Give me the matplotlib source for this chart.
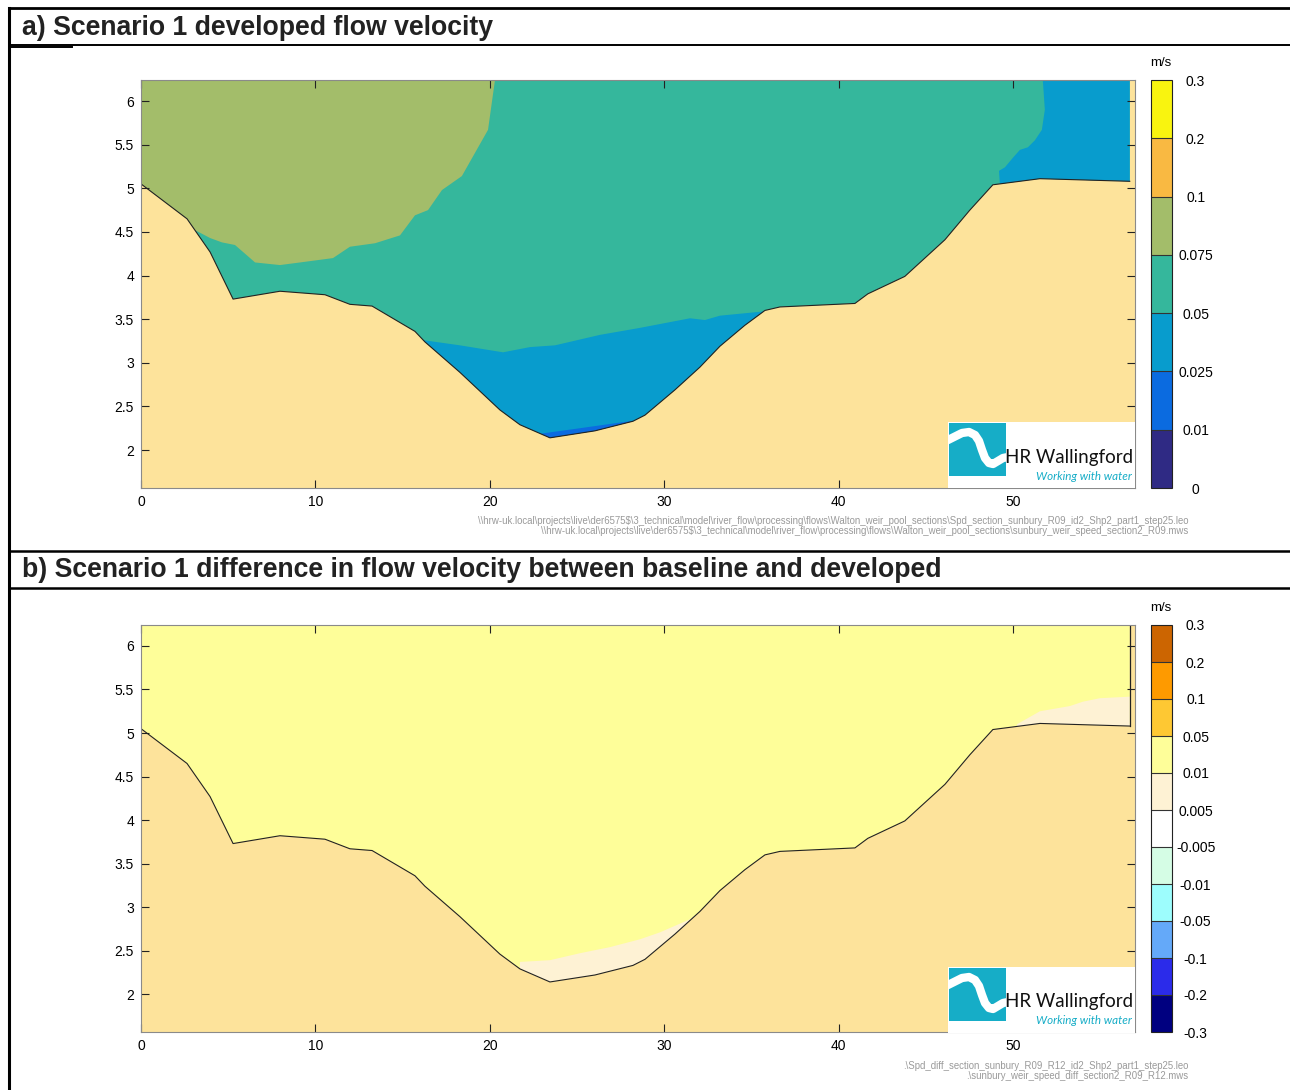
import matplotlib.pyplot as plt
from matplotlib.cm import ScalarMappable
from matplotlib.colors import BoundaryNorm, ListedColormap
from matplotlib.lines import Line2D
from matplotlib.patches import Polygon, Rectangle

W, H = 1290, 1090
plt.rcParams['font.family'] = ['Liberation Sans', 'DejaVu Sans']

# river bed along the section (chainage m, level m)
BED_X = [0, 2.64, 3.96, 5.28, 7.97, 10.55, 11.98, 13.25, 15.71, 16.28, 18.29, 20.58,
         21.73, 23.45, 26.03, 28.21, 28.9, 30.62, 32.05, 33.2, 34.63, 35.78, 36.64,
         40.94, 41.68, 43.8, 46.1, 47.53, 48.85, 51.55, 56.7]
BED_Z = [5.05, 4.65, 4.27, 3.73, 3.82, 3.78, 3.67, 3.65, 3.36, 3.24, 2.89, 2.46,
         2.29, 2.14, 2.22, 2.33, 2.40, 2.69, 2.95, 3.19, 3.43, 3.60, 3.64,
         3.68, 3.79, 3.99, 4.41, 4.75, 5.04, 5.11, 5.08]

# developed speed: contour bands (boundary x, boundary z, band value, side of boundary)
DEV_BASE = 0.06
DEV_OLIVE_X = [20.41, 19.9, 18.4, 17.26, 16.46, 15.71, 14.85, 13.42, 11.98, 11.01, 9.12,
               7.97, 6.54, 6.14, 5.39, 4.64, 3.96, 3.10]
DEV_OLIVE_Z = [6.4, 5.67, 5.14, 4.98, 4.75, 4.69, 4.46, 4.37, 4.33, 4.20, 4.15,
               4.12, 4.15, 4.22, 4.35, 4.38, 4.43, 4.52]
DEV_MID_X = [16.17, 18.29, 20.76, 22.31, 23.74, 26.32, 28.61, 31.48, 32.34, 33.2, 35.78]
DEV_MID_Z = [3.26, 3.20, 3.12, 3.18, 3.20, 3.32, 3.40, 3.51, 3.49, 3.54, 3.59]
DEV_LOW_X = [23.0, 25.17, 27.29, 28.21]
DEV_LOW_Z = [2.19, 2.25, 2.31, 2.335]
DEV_RIGHT_X = [51.66, 51.83, 51.66, 51.26, 50.86, 50.40, 50.0, 49.54, 49.2, 49.25]
DEV_RIGHT_Z = [6.4, 5.90, 5.67, 5.55, 5.47, 5.44, 5.35, 5.24, 5.20, 5.05]
DEV_BANDS = [
    (DEV_OLIVE_X, DEV_OLIVE_Z, 0.085, 'left'),
    (DEV_MID_X, DEV_MID_Z, 0.04, 'below'),
    (DEV_LOW_X, DEV_LOW_Z, 0.02, 'below'),
    (DEV_RIGHT_X, DEV_RIGHT_Z, 0.04, 'right'),
]

# difference in speed
DIFF_BASE = 0.03
DIFF_LOW_X = [21.73, 23.45, 25.17, 26.89, 28.61, 29.76, 31.48, 31.94]
DIFF_LOW_Z = [2.37, 2.39, 2.47, 2.54, 2.63, 2.71, 2.86, 2.93]
DIFF_RIGHT_X = [56.9, 54.99, 54.01, 53.27, 51.55, 50.23]
DIFF_RIGHT_Z = [5.42, 5.40, 5.36, 5.31, 5.25, 5.10]
DIFF_BANDS = [
    (DIFF_LOW_X, DIFF_LOW_Z, 0.007, 'below'),
    (DIFF_RIGHT_X, DIFF_RIGHT_Z, 0.007, 'below'),
]

SPEED_BOUNDS = [0, 0.01, 0.025, 0.05, 0.075, 0.1, 0.2, 0.3]
SPEED_LABELS = ['0', '0.01', '0.025', '0.05', '0.075', '0.1', '0.2', '0.3']
SPEED_COLORS = ['#2f2a84', '#0b6be0', '#089ccd', '#35b79c', '#a3bd6a', '#f9b942', '#f9f40f']

DIFF_BOUNDS = [-0.3, -0.2, -0.1, -0.05, -0.01, -0.005, 0.005, 0.01, 0.05, 0.1, 0.2, 0.3]
DIFF_LABELS = ['-0.3', '-0.2', '-0.1', '-0.05', '-0.01', '-0.005', '0.005', '0.01',
               '0.05', '0.1', '0.2', '0.3']
DIFF_COLORS = ['#000080', '#2b2bea', '#64a9f9', '#9dfdfd', '#d5fde5', '#ffffff',
               '#fef2d4', '#fefe99', '#fec833', '#fe9a00', '#cc6501']

X_TICKS = [0, 10, 20, 30, 40, 50]
Y_TICKS = [2, 2.5, 3, 3.5, 4, 4.5, 5, 5.5, 6]
Y_TICK_LABELS = ['2', '2.5', '3', '3.5', '4', '4.5', '5', '5.5', '6']

TITLE_A = 'a) Scenario 1 developed flow velocity'
TITLE_B = 'b) Scenario 1 difference in flow velocity between baseline and developed'
SRC_A = ['\\\\hrw-uk.local\\projects\\live\\der6575$\\3_technical\\model\\river_flow\\processing'
         '\\flows\\Walton_weir_pool_sections\\Spd_section_sunbury_R09_id2_Shp2_part1_step25.leo',
         '\\\\hrw-uk.local\\projects\\live\\der6575$\\3_technical\\model\\river_flow\\processing'
         '\\flows\\Walton_weir_pool_sections\\sunbury_weir_speed_section2_R09.mws']
SRC_B = ['.\\Spd_diff_section_sunbury_R09_R12_id2_Shp2_part1_step25.leo',
         '.\\sunbury_weir_speed_diff_section2_R09_R12.mws']

SAND = '#fde39b'
LOGO_CYAN = '#16adc7'
XLIM = (0, 57.0)
YLIM = (1.565, 6.241)


def rect(px0, py0, px1, py1):
    return [px0 / W, 1 - py1 / H, (px1 - px0) / W, (py1 - py0) / H]


def band_polygon(xs, zs, side):
    pts = list(zip(xs, zs))
    if side == 'below':
        pts += [(xs[-1], 0), (xs[0], 0)]
    elif side == 'left':
        pts += [(xs[-1], 0), (-5, 0), (-5, 10), (xs[0], 10)]
    else:
        pts += [(xs[-1], 0), (70, 0), (70, 10), (xs[0], 10)]
    return pts


def draw_logo(fig, top):
    lax = fig.add_axes(rect(948, top, 1135, top + 66))
    lax.set_xlim(0, 187)
    lax.set_ylim(66, 0)
    lax.set_facecolor('white')
    for s in lax.spines.values():
        s.set_visible(False)
    lax.set_xticks([])
    lax.set_yticks([])
    square = Rectangle((1, 1), 57, 53, color=LOGO_CYAN, lw=0)
    lax.add_patch(square)
    wave, = lax.plot([-2, 6, 14, 21, 27, 31, 34, 37, 41, 45, 50, 55, 60],
                     [19, 15, 11, 10, 13, 19, 28, 36, 41, 42, 39, 36, 35],
                     color='white', lw=6, solid_capstyle='butt', solid_joinstyle='round')
    wave.set_clip_path(square)
    lax.text(57, 35, 'HR Wallingford', fontsize=13.5, family=['Lato', 'DejaVu Sans'],
             color='#111111', va='center', ha='left')
    lax.text(184, 54, 'Working with water', fontsize=8.4, family=['Lato', 'DejaVu Sans'],
             style='italic', color=LOGO_CYAN, va='center', ha='right')


def draw_panel(fig, top, bottom, base_value, bands, cmap, norm, edge_line):
    ax = fig.add_axes(rect(141, top, 1135, bottom))
    ax.set_facecolor(SAND)
    water = Polygon(list(zip(BED_X, BED_Z)) + [(BED_X[-1], 10), (BED_X[0], 10)],
                    closed=True, facecolor=cmap(norm(base_value)), edgecolor='none')
    ax.add_patch(water)
    for xs, zs, val, side in bands:
        p = Polygon(band_polygon(xs, zs, side), closed=True,
                    facecolor=cmap(norm(val)), edgecolor='none')
        ax.add_patch(p)
        p.set_clip_path(water)
    ax.plot(BED_X, BED_Z, color='#222222', lw=0.8)
    if edge_line:
        ax.plot([BED_X[-1], BED_X[-1]], [BED_Z[-1], 10], color='#222222', lw=0.9)
    ax.set_xlim(*XLIM)
    ax.set_ylim(*YLIM)
    ax.set_xticks(X_TICKS)
    ax.set_yticks(Y_TICKS)
    ax.set_yticklabels(Y_TICK_LABELS)
    ax.tick_params(direction='in', length=6, width=0.8, top=True, right=True,
                   labelsize=10, pad=5, color='#222222')
    for s in ax.spines.values():
        s.set_color('#8a8a8a')
        s.set_linewidth(0.8)
    return ax


def draw_colorbar(fig, top, bottom, cmap, norm, bounds, labels):
    cax = fig.add_axes(rect(1151, top, 1172, bottom))
    cb = fig.colorbar(ScalarMappable(norm=norm, cmap=cmap), cax=cax, spacing='uniform',
                      ticks=bounds, drawedges=True)
    cb.set_ticklabels(labels)
    cb.outline.set_linewidth(0.8)
    cb.outline.set_edgecolor('#222222')
    cb.dividers.set_color('#333333')
    cb.dividers.set_linewidth(0.8)
    cax.tick_params(length=0, labelsize=10, pad=17)
    for t in cax.get_yticklabels():
        t.set_ha('center')
    fig.text(1161 / W, 1 - (top - 17) / H, 'm/s', fontsize=9.5, ha='center', va='center')


fig = plt.figure(figsize=(W / 100, H / 100), dpi=100)

# frame and section headers
for (x0, y0, x1, y1, lw) in [(9, 8, 1290, 8, 2), (9, 8, 9, 1090, 2.2), (9, 45, 1290, 45, 1.4),
                             (9, 47, 72, 47, 1.4), (9, 551, 1290, 551, 1.8),
                             (9, 588, 1290, 588, 1.8)]:
    fig.add_artist(Line2D([x0 / W, x1 / W], [1 - y0 / H, 1 - y1 / H], color='black', lw=lw))
fig.text(22 / W, 1 - 28 / H, TITLE_A, fontsize=19.2, fontweight='bold', color='#222222',
         va='center', ha='left')
fig.text(22 / W, 1 - 570 / H, TITLE_B, fontsize=19.2, fontweight='bold', color='#222222',
         va='center', ha='left')

speed_cmap = ListedColormap(SPEED_COLORS)
speed_norm = BoundaryNorm(SPEED_BOUNDS, speed_cmap.N)
diff_cmap = ListedColormap(DIFF_COLORS)
diff_norm = BoundaryNorm(DIFF_BOUNDS, diff_cmap.N)

draw_panel(fig, 80, 488, DEV_BASE, DEV_BANDS, speed_cmap, speed_norm, False)
draw_logo(fig, 422)
draw_colorbar(fig, 80, 488, speed_cmap, speed_norm, SPEED_BOUNDS, SPEED_LABELS)

draw_panel(fig, 625, 1032, DIFF_BASE, DIFF_BANDS, diff_cmap, diff_norm, True)
draw_logo(fig, 967)
draw_colorbar(fig, 625, 1032, diff_cmap, diff_norm, DIFF_BOUNDS, DIFF_LABELS)

# source file references
for i, line in enumerate(SRC_A):
    fig.text(1188 / W, 1 - (521 + 10 * i) / H, line, fontsize=6.9, color='#9a9a9a',
             ha='right', va='center', parse_math=False)
for i, line in enumerate(SRC_B):
    fig.text(1188 / W, 1 - (1066 + 10 * i) / H, line, fontsize=6.9, color='#9a9a9a',
             ha='right', va='center', parse_math=False)

fig.savefig('out.png', dpi=100)
